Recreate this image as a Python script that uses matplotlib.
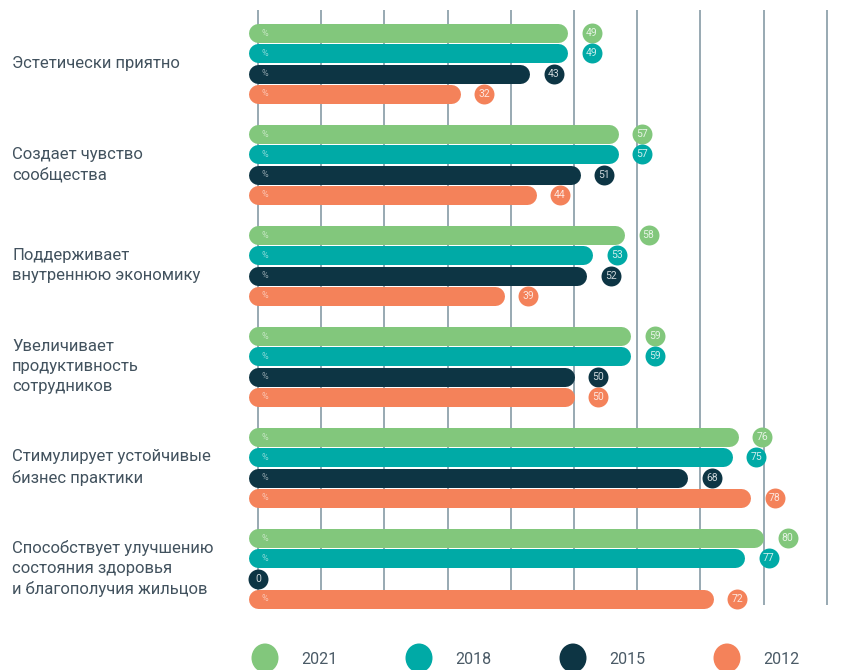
import matplotlib
matplotlib.use("Agg")
import matplotlib.pyplot as plt
from matplotlib.transforms import blended_transform_factory

categories = [
    "Эстетически приятно",
    "Создает чувство\nсообщества",
    "Поддерживает\nвнутреннюю экономику",
    "Увеличивает\nпродуктивность\nсотрудников",
    "Стимулирует устойчивые\nбизнес практики",
    "Способствует улучшению\nсостояния здоровья\nи благополучия жильцов",
]
years = ["2021", "2018", "2015", "2012"]
v2021 = [49, 57, 58, 59, 76, 80]
v2018 = [49, 57, 53, 59, 75, 77]
v2015 = [43, 51, 52, 50, 68, 0]
v2012 = [32, 44, 39, 50, 78, 72]
series = [v2021, v2018, v2015, v2012]
colors = ["#82c77c", "#00aaa6", "#0d3544", "#f4825a"]
grid_ticks = list(range(0, 100, 10))

W, H, DPI = 851, 670, 100
fig = plt.figure(figsize=(W / DPI, H / DPI), dpi=DPI)
ax = fig.add_axes([0, 0, 1, 1])

# layout (pixels)
x0_px, px_per_unit = 258.0, 6.32
y0_px, px_per_group = 63.5, 101.0
bar_step_px = 20.3
bar_h_px = 19.0

ax.set_xlim(-x0_px / px_per_unit, (W - x0_px) / px_per_unit)
ax.set_ylim((H - y0_px) / px_per_group, -y0_px / px_per_group)
ax.axis("off")

r_data = (bar_h_px / 2) / px_per_unit
lw_pt = bar_h_px * 72 / DPI
step = bar_step_px / px_per_group
label_off = 24 / px_per_unit

# gridlines
ax.vlines(grid_ticks, (10 - y0_px) / px_per_group, (605 - y0_px) / px_per_group,
          colors="#98a9b2", linewidth=1.4, zorder=1)

txtfam = ["Roboto", "DejaVu Sans"]
for gi, cat in enumerate(categories):
    for si, vals in enumerate(series):
        v = vals[gi]
        y = gi + (si - 1.5) * step
        c = colors[si]
        if v > 0:
            ax.plot([0, v - r_data], [y, y], color=c, lw=lw_pt,
                    solid_capstyle="round", zorder=3)
            ax.text(0.6, y, "%", color="white", alpha=0.55, fontsize=6.5,
                    va="center", ha="left", zorder=4, family=txtfam)
            cx = v + label_off
        else:
            cx = 0
        ax.scatter([cx], [y], s=(bar_h_px * 1.05 * 72 / DPI) ** 2, color=c,
                   zorder=5, linewidths=0)
        ax.text(cx, y, str(v), color="white", alpha=0.8, fontsize=7.5,
                ha="center", va="center", zorder=6, family=txtfam)
    tr = blended_transform_factory(fig.transFigure, ax.transData)
    ax.text(12 / W, gi, cat, transform=tr, ha="left", va="center",
            fontsize=12, fontweight="normal", color="#42525e",
            linespacing=1.42, family=txtfam)

# legend
leg_cx = [265, 419, 573, 727]
leg_y = 1 - 658 / H
for i, yr in enumerate(years):
    fig.patches.append(matplotlib.patches.Ellipse(
        (leg_cx[i] / W, leg_y), 27 / W, 29 / H, transform=fig.transFigure,
        color=colors[i], lw=0))
    fig.text((leg_cx[i] + 36) / W, leg_y - 2 / H, yr, fontsize=11.5,
             color="#4a5a66", ha="left", va="center", family=txtfam)

fig.savefig("out.png", dpi=DPI)
